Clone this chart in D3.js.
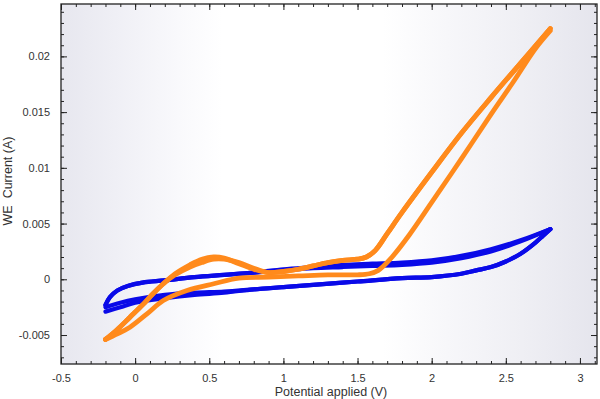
<!DOCTYPE html>
<html><head><meta charset="utf-8">
<script src="https://cdn.jsdelivr.net/npm/d3@7"></script>
<style>html,body{margin:0;padding:0;background:#fff;}svg{display:block;font-family:"Liberation Sans",Arial,sans-serif;}</style>
</head><body><svg id="c" width="600" height="399"></svg>
<script>
// ---- data ----
const xTicks = [-0.5, 0, 0.5, 1, 1.5, 2, 2.5, 3];
const yTicks = [-0.005, 0, 0.005, 0.01, 0.015, 0.02];
const xLabel = "Potential applied (V)";
const yLabel = "WE  Current (A)";

// blue loop: anodic (upper) branches and cathodic (lower) branches of two cycles
const blueFwdV = [-0.2, -0.17, -0.12, -0.05, 0.05, 0.2, 0.4, 0.6, 0.8, 1.0, 1.2, 1.4, 1.6, 1.8, 2.0, 2.2, 2.4, 2.6, 2.8];
const blueFwd1I = [-0.0023, -0.0016, -0.0010, -0.0006, -0.0003, -0.0001, 0.0002, 0.0004, 0.0006, 0.0009, 0.0011, 0.0013, 0.0014, 0.0015, 0.0017, 0.0021, 0.0027, 0.0035, 0.0045];
const blueFwd2I = [-0.0023, -0.0016, -0.0010, -0.0006, -0.0003, -0.0001, 0.0002, 0.0004, 0.0006, 0.0008, 0.0010, 0.0011, 0.0012, 0.0013, 0.0015, 0.0019, 0.0025, 0.0034, 0.0045];
const blueRevV = [2.8, 2.75, 2.7, 2.6, 2.5, 2.4, 2.3, 2.2, 2.0, 1.8, 1.5, 1.2, 1.0, 0.8, 0.6, 0.4, 0.2, 0.0, -0.1, -0.2];
const blueRev1I = [0.0045, 0.0039, 0.0033, 0.0023, 0.0016, 0.0011, 0.0008, 0.0005, 0.0002, 0.0001, -0.0002, -0.0005, -0.0007, -0.0009, -0.0012, -0.0014, -0.0017, -0.0021, -0.0025, -0.0029];
const blueRev2I = [0.0045, 0.0039, 0.0033, 0.0023, 0.0016, 0.0011, 0.0008, 0.0005, 0.0002, 0.0001, -0.0002, -0.0005, -0.0007, -0.0009, -0.0011, -0.0012, -0.0014, -0.0018, -0.0021, -0.0025];

// orange loop: two cycles
const orangeFwdV = [-0.2, -0.12, -0.035, 0.05, 0.12, 0.19, 0.27, 0.37, 0.45, 0.53, 0.6, 0.7, 0.8, 0.9, 1.0, 1.1, 1.2, 1.3, 1.4, 1.5, 1.56, 1.62, 1.7, 1.8, 2.0, 2.2, 2.4, 2.6, 2.8];
const orangeFwd1I = [-0.0054, -0.0045, -0.0034, -0.0023, -0.0013, -0.0004, 0.0005, 0.0013, 0.0018, 0.0020, 0.0019, 0.0014, 0.0009, 0.0006, 0.0007, 0.0009, 0.0012, 0.0015, 0.0017, 0.0018, 0.0020, 0.0026, 0.0041, 0.0060, 0.0096, 0.0131, 0.0163, 0.0194, 0.0225];
const orangeFwd2I = [-0.0054, -0.0045, -0.0034, -0.0023, -0.0013, -0.0004, 0.0004, 0.0011, 0.0015, 0.0018, 0.0018, 0.0015, 0.0010, 0.0006, 0.0007, 0.0009, 0.0012, 0.0015, 0.0017, 0.0018, 0.0020, 0.0026, 0.0041, 0.0060, 0.0096, 0.0131, 0.0163, 0.0194, 0.0225];
const orangeRevV = [2.8, 2.7, 2.55, 2.4, 2.2, 2.0, 1.85, 1.72, 1.64, 1.58, 1.5, 1.3, 1.1, 0.9, 0.7, 0.53, 0.35, 0.19, 0.08, -0.035, -0.12, -0.2];
const orangeRevI = [0.0223, 0.0207, 0.0177, 0.0148, 0.0108, 0.0069, 0.0040, 0.0018, 0.0008, 0.0005, 0.0004, 0.0004, 0.0003, 0.0002, 0.0001, -0.0004, -0.0010, -0.0019, -0.0031, -0.0043, -0.0049, -0.0054];

// ---- chart ----
const svg = d3.select("#c");
const L = 61, R = 597, T = 4, B = 364;
const x = d3.scaleLinear().domain([-0.5, 3.115]).range([L, R]);
const y = d3.scaleLinear().domain([-0.0076, 0.0247]).range([B, T]);

const defs = svg.append("defs");
const g = defs.append("linearGradient").attr("id", "bg").attr("x1", "0").attr("x2", "1").attr("y1", "0").attr("y2", "0");
[[0, "#e7e7ef"], [0.1, "#efeff5"], [0.22, "#f9f9fc"], [0.3, "#ffffff"], [0.6, "#ffffff"], [0.72, "#f7f7fa"], [0.86, "#efeff4"], [1, "#e5e5ed"]]
  .forEach(([o, c]) => g.append("stop").attr("offset", o).attr("stop-color", c));
defs.append("clipPath").attr("id", "clip").append("rect").attr("x", L).attr("y", T).attr("width", R - L).attr("height", B - T);

svg.append("rect").attr("x", L).attr("y", T).attr("width", R - L).attr("height", B - T).attr("fill", "url(#bg)");

const zip = (V, I) => V.map((v, i) => [v, I[i]]);
const line = d3.line().x(d => x(d[0])).y(d => y(d[1])).curve(d3.curveCatmullRom.alpha(0.5));
const plot = svg.append("g").attr("clip-path", "url(#clip)");

const drawSeries = (arrs, color, w) => arrs.forEach(a => plot.append("path").attr("d", line(a))
  .attr("fill", "none").attr("stroke", color).attr("stroke-width", w)
  .attr("stroke-linecap", "round").attr("stroke-linejoin", "round"));

const blue = "#0a0ae8", orange = "#ff8a1c";
drawSeries([zip(blueFwdV, blueFwd1I), zip(blueFwdV, blueFwd2I), zip(blueRevV, blueRev1I), zip(blueRevV, blueRev2I)], blue, 4.2);
drawSeries([zip(orangeFwdV, orangeFwd1I), zip(orangeFwdV, orangeFwd2I), zip(orangeRevV, orangeRevI)], orange, 4.8);

// axes (ticks pointing inward, mirrored)
const fmt = d => String(d);
const ax = svg.append("g").attr("class", "axes");
const style = sel => { sel.select(".domain").remove(); sel.selectAll("line").attr("stroke", "#222"); sel.selectAll("text").attr("fill", "#333").style("font-size", "11px"); };

const xMinor = d3.range(-0.5, 3.101, 0.1).map(v => +v.toFixed(2));
const yMinor = d3.range(-0.007, 0.0245, 0.001).map(v => +v.toFixed(4));

ax.append("g").attr("transform", `translate(0,${B})`).call(d3.axisBottom(x).tickValues(xTicks).tickFormat(fmt).tickSizeInner(-6).tickSizeOuter(0).tickPadding(10)).call(style);
ax.append("g").attr("transform", `translate(0,${B})`).call(d3.axisBottom(x).tickValues(xMinor).tickFormat("").tickSizeInner(-3).tickSizeOuter(0)).call(style);
ax.append("g").attr("transform", `translate(0,${T})`).call(d3.axisTop(x).tickValues(xTicks).tickFormat("").tickSizeInner(-6).tickSizeOuter(0)).call(style);
ax.append("g").attr("transform", `translate(0,${T})`).call(d3.axisTop(x).tickValues(xMinor).tickFormat("").tickSizeInner(-3).tickSizeOuter(0)).call(style);
ax.append("g").attr("transform", `translate(${L},0)`).call(d3.axisLeft(y).tickValues(yTicks).tickFormat(fmt).tickSizeInner(-6).tickSizeOuter(0).tickPadding(11)).call(style);
ax.append("g").attr("transform", `translate(${L},0)`).call(d3.axisLeft(y).tickValues(yMinor).tickFormat("").tickSizeInner(-3).tickSizeOuter(0)).call(style);
ax.append("g").attr("transform", `translate(${R},0)`).call(d3.axisRight(y).tickValues(yTicks).tickFormat("").tickSizeInner(-6).tickSizeOuter(0)).call(style);
ax.append("g").attr("transform", `translate(${R},0)`).call(d3.axisRight(y).tickValues(yMinor).tickFormat("").tickSizeInner(-3).tickSizeOuter(0)).call(style);

svg.append("rect").attr("x", L).attr("y", T).attr("width", R - L).attr("height", B - T)
  .attr("fill", "none").attr("stroke", "#222").attr("stroke-width", 1.3);

svg.append("text").attr("x", 331).attr("y", 396).attr("text-anchor", "middle")
  .style("font-size", "12.5px").attr("fill", "#333").text(xLabel);
svg.append("text").attr("transform", "translate(12,181) rotate(-90)").attr("text-anchor", "middle")
  .style("font-size", "12.5px").style("white-space", "pre").attr("fill", "#333").text(yLabel);
</script></body></html>
